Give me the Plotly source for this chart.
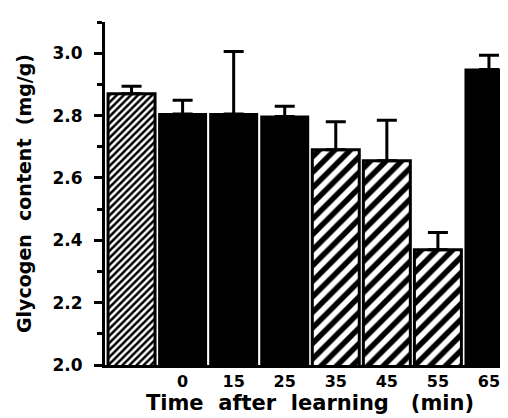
import plotly.graph_objects as go

labels = ["", "0", "15", "25", "35", "45", "55", "65"]
values = [2.87, 2.805, 2.805, 2.797, 2.69, 2.655, 2.37, 2.948]
err_up = [0.024, 0.044, 0.2, 0.033, 0.09, 0.13, 0.055, 0.045]
hatch = ["fine", "solid", "solid", "solid", "coarse", "coarse", "coarse", "solid"]

x = list(range(len(labels)))
fig = go.Figure()

groups = {
    "fine": dict(shape="/", size=5, solidity=0.5),
    "coarse": dict(shape="/", size=11, solidity=0.5),
    "solid": None,
}
for kind, pat in groups.items():
    idx = [i for i, h in enumerate(hatch) if h == kind]
    marker = dict(color="black", line=dict(color="black", width=2))
    if pat:
        marker = dict(color="white", line=dict(color="black", width=3),
                      pattern=dict(fgcolor="black", bgcolor="white", fgopacity=1,
                                   fillmode="replace", **pat))
    fig.add_trace(go.Bar(
        x=[x[i] for i in idx], y=[values[i] for i in idx],
        marker=marker, width=0.92, opacity=1,
        error_y=dict(type="data", symmetric=False,
                     array=[err_up[i] for i in idx], arrayminus=[0] * len(idx),
                     color="black", thickness=3, width=10),
        showlegend=False,
    ))

fam = "DejaVu Sans"
fig.update_layout(
    width=508, height=418,
    margin=dict(l=97, r=1, t=14, b=61),
    paper_bgcolor="white", plot_bgcolor="white",
    barmode="overlay",
    font=dict(family=fam, color="black", size=15, weight="bold"),
    xaxis=dict(range=[-0.52, 7.51], tickvals=x, ticktext=labels,
               showline=True, linecolor="black", linewidth=3,
               ticks="", showgrid=False, zeroline=False,
               tickfont=dict(size=16, family=fam, weight="bold"),
               title=dict(text="Time\u00a0\u00a0after\u00a0\u00a0learning\u00a0\u00a0\u00a0(min)",
                          font=dict(size=21, family=fam, weight="bold"),
                          standoff=6)),
    yaxis=dict(range=[2.0, 3.1], tickvals=[2.0, 2.2, 2.4, 2.6, 2.8, 3.0],
               ticktext=["2.0", "2.2", "2.4", "2.6", "2.8", "3.0"],
               showline=True, linecolor="black", linewidth=3,
               ticks="outside", ticklen=8, tickwidth=3, tickcolor="black",
               ticklabelstandoff=8,
               minor=dict(tickvals=[2.1, 2.3, 2.5, 2.7, 2.9, 3.1], ticks="outside",
                          ticklen=5, tickwidth=3, tickcolor="black"),
               showgrid=False, zeroline=False,
               tickfont=dict(size=17, family=fam, weight="bold"),
               title=dict(text="Glycogen\u00a0\u00a0content\u00a0\u00a0(mg/g)",
                          font=dict(size=19, family=fam, weight="bold"),
                          standoff=16)),
)

fig.write_html("out.html")
